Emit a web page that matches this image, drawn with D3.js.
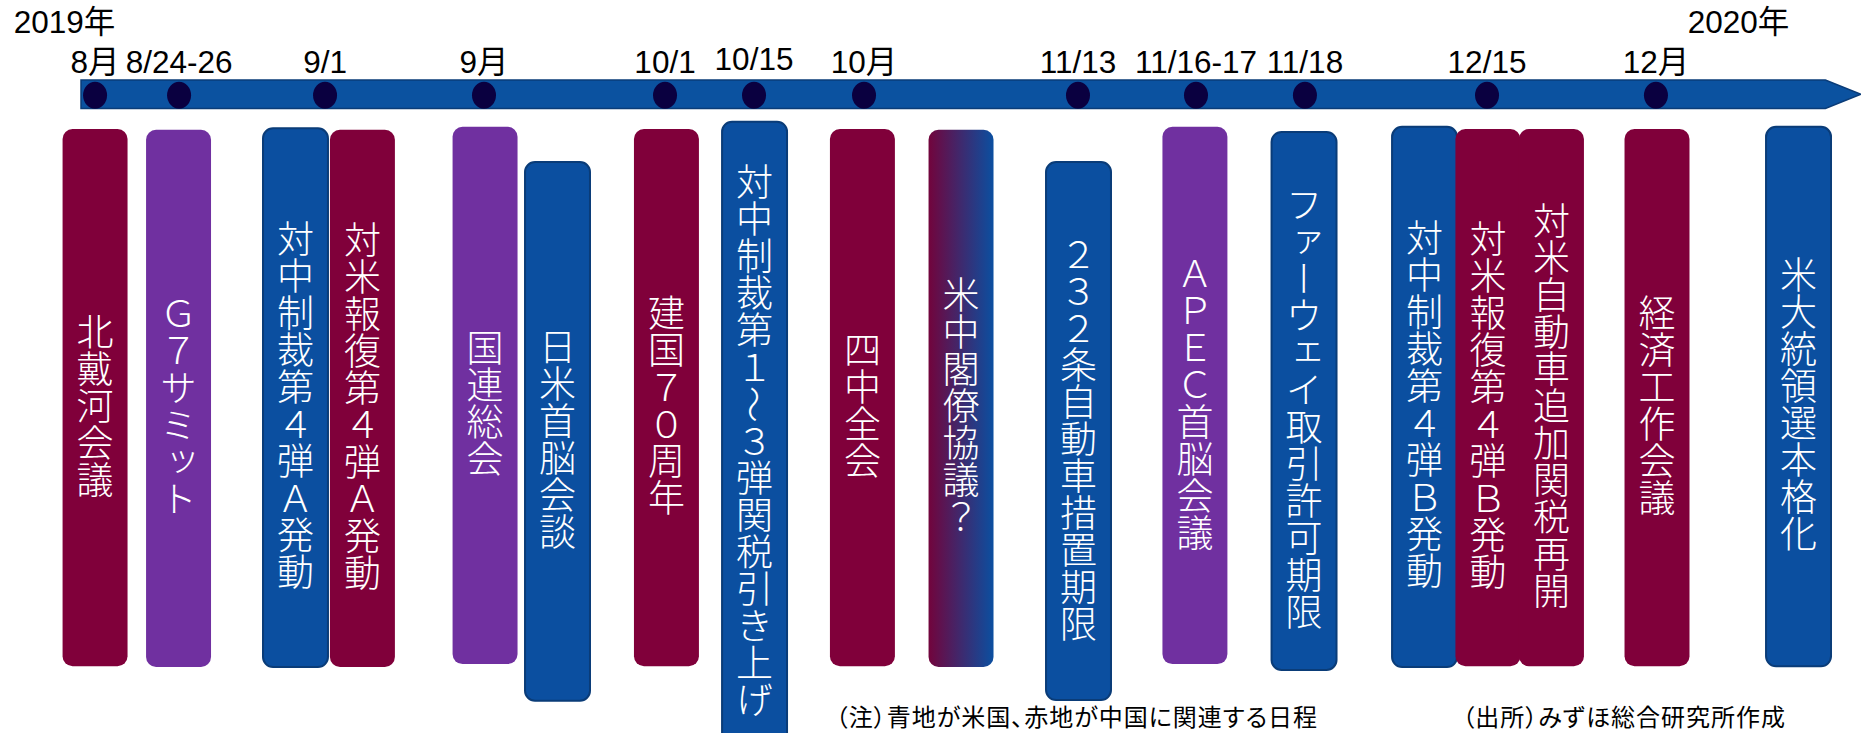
<!DOCTYPE html>
<html>
<head>
<meta charset="utf-8">
<script src="https://cdn.jsdelivr.net/npm/d3@7"></script>
<style>
  body { margin: 0; background: #fff; }
  svg { display: block; }
</style>
</head>
<body>
<script>

// Timeline labels (position in timeline units, 0 = start of arrow, 100 = tip)
var dateLabels = ["8月", "8/24-26", "9/1", "9月", "10/1", "10/15", "10月", "11/13", "11/16-17", "11/18", "12/15", "12月"];
var datePositions = [0.79, 5.51, 13.71, 22.64, 32.81, 37.81, 43.99, 56.01, 62.64, 68.76, 78.99, 88.48];

var yearLabels = ["2019年", "2020年"];
var yearPositions = [-0.93, 93.12];

// Events, drawn as vertical boxes
var eventNames = ["北戴河会議", "Ｇ７サミット", "対中制裁第４弾Ａ発動", "対米報復第４弾Ａ発動", "国連総会", "日米首脳会談",
    "建国７０周年", "対中制裁第１〜３弾関税引き上げ", "四中全会", "米中閣僚協議？", "２３２条自動車措置期限", "ＡＰＥＣ首脳会議",
    "ファーウェイ取引許可期限", "対中制裁第４弾Ｂ発動", "対米報復第４弾Ｂ発動", "対米自動車追加関税再開", "経済工作会議", "米大統領選本格化"];
var eventPositions = [0.79, 5.48, 12.05, 15.81, 22.70, 26.77, 32.89, 37.84, 43.90, 49.44, 56.04, 62.58,
    68.71, 75.48, 79.04, 82.61, 88.54, 96.49];
var eventTypes = ["china", "world", "us", "china", "world", "us", "china", "us", "china", "both", "us", "world",
    "us", "us", "china", "china", "china", "us"];
// top / bottom of each box, in percent of the chart height
var eventTops = [17.6, 17.7, 17.5, 17.7, 17.3, 22.1, 17.6, 16.6, 17.6, 17.7, 22.1, 17.3, 18.0, 17.3, 17.6, 17.6, 17.6, 17.3];
var eventBottoms = [90.9, 91.0, 91.0, 91.0, 90.6, 95.6, 90.9, 101.6, 90.9, 91.0, 95.5, 90.6, 91.4, 91.0, 90.9, 90.9, 90.9, 90.9];

var notes = ["（注）青地が米国、赤地が中国に関連する日程", "（出所）みずほ総合研究所作成"];
var notePositions = [42.4, 77.6];

window.onload = function() {
    draw_timeline();
};

function draw_timeline(){

    var width = 1861;
    var height = 733;
    var boxWidth = 3.65;
    var arrowStart = 98;

    var colors = {"china": "#80003a", "world": "#7030a0", "us": "#0b4fa0", "both": "url(#both)"};

    var svg = d3.select("body")
                .append("svg")
                .attr("width", width)
                .attr("height", height);

    var x = d3.scaleLinear()
                .domain([0, 100])
                .range([81, 1861]);

    var y = d3.scaleLinear()
                .domain([0, 100])
                .range([0, height]);

    // gradient for the event related to both countries
    var grad = svg.append("defs")
                .append("linearGradient")
                .attr("id", "both")
                .attr("x1", "0%").attr("x2", "100%")
                .attr("y1", "0%").attr("y2", "0%");
    grad.append("stop").attr("offset", "0%").attr("stop-color", "#72043c");
    grad.append("stop").attr("offset", "100%").attr("stop-color", "#0b4fa0");

    // arrow of the timeline
    var barTop = 80, barBottom = 108.5, barMid = (barTop + barBottom) / 2;
    var arrow = d3.path();
    arrow.moveTo(x(0), barTop);
    arrow.lineTo(x(arrowStart), barTop);
    arrow.lineTo(x(100), barMid);
    arrow.lineTo(x(arrowStart), barBottom);
    arrow.lineTo(x(0), barBottom);
    arrow.closePath();

    svg.append("path")
        .attr("d", arrow.toString())
        .attr("fill", "#0b52a0")
        .attr("stroke", "#0a3c78")
        .attr("stroke-width", 1.5);

    // dots on the timeline
    svg.selectAll("ellipse")
        .data(datePositions)
        .enter()
        .append("ellipse")
        .attr("cx", function(d) { return x(d); })
        .attr("cy", barMid + 1)
        .attr("rx", 12)
        .attr("ry", 13.5)
        .attr("fill", "#0a0040");

    // date labels
    svg.selectAll(".date")
        .data(dateLabels)
        .enter()
        .append("text")
        .attr("class", "date")
        .attr("x", function(d, i) { return x(datePositions[i]); })
        .attr("y", function(d) { return d == "10/15" ? 70 : 73; })
        .attr("text-anchor", "middle")
        .attr("font-family", "'Liberation Sans', Arial, 'Noto Sans CJK JP'")
        .attr("font-size", "31.5px")
        .attr("fill", "#000")
        .text(function(d) { return d; });

    svg.selectAll(".year")
        .data(yearLabels)
        .enter()
        .append("text")
        .attr("class", "year")
        .attr("x", function(d, i) { return x(yearPositions[i]); })
        .attr("y", 33)
        .attr("text-anchor", "middle")
        .attr("font-family", "'Liberation Sans', Arial, 'Noto Sans CJK JP'")
        .attr("font-size", "31.5px")
        .attr("fill", "#000")
        .text(function(d) { return d; });

    // event boxes
    var bw = x(boxWidth) - x(0);
    var events = svg.selectAll(".event")
                    .data(eventNames)
                    .enter()
                    .append("g")
                    .attr("class", "event");

    events.append("rect")
        .attr("x", function(d, i) { return x(eventPositions[i]) - bw / 2; })
        .attr("y", function(d, i) { return y(eventTops[i]); })
        .attr("width", bw)
        .attr("height", function(d, i) { return y(eventBottoms[i]) - y(eventTops[i]); })
        .attr("rx", 10)
        .attr("fill", function(d, i) { return colors[eventTypes[i]]; })
        .attr("stroke", function(d, i) { return eventTypes[i] == "us" ? "#0a3c78" : "none"; })
        .attr("stroke-width", 2);

    // vertical text, the wave dash is turned sideways
    events.append("text")
        .attr("x", function(d, i) { return x(eventPositions[i]); })
        .attr("y", function(d, i) { return (y(eventTops[i]) + y(eventBottoms[i])) / 2 + 8; })
        .attr("text-anchor", "middle")
        .style("writing-mode", "vertical-rl")
        .style("text-orientation", "upright")
        .attr("font-family", "'Noto Sans CJK JP'")
        .attr("font-weight", 300)
        .attr("font-size", "37px")
        .attr("fill", "#fff")
        .each(function(d) {
            var t = d3.select(this);
            d.split(/(〜)/).forEach(function(part) {
                if (part == "") return;
                t.append("tspan")
                    .style("text-orientation", part == "〜" ? "sideways" : "upright")
                    .text(part);
            });
        });

    // notes at the bottom
    svg.selectAll(".note")
        .data(notes)
        .enter()
        .append("text")
        .attr("class", "note")
        .attr("x", function(d, i) { return x(notePositions[i]); })
        .attr("y", 726)
        .style("font-feature-settings", "'palt'")
        .style("letter-spacing", "1px")
        .attr("font-family", "'Noto Sans CJK JP'")
        .attr("font-size", "24px")
        .attr("fill", "#000")
        .text(function(d) { return d; });
}

</script>
</body>
</html>
